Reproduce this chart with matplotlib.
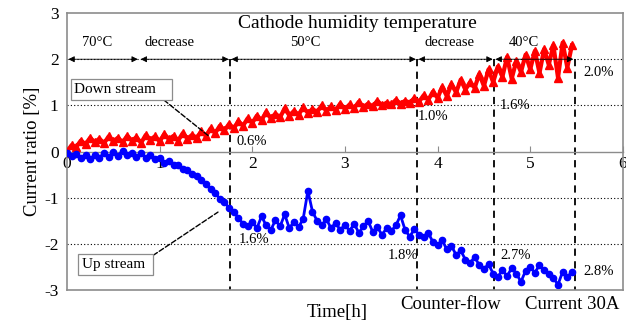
import numpy as np
import matplotlib
matplotlib.use('Agg')
import matplotlib.pyplot as plt

plt.rcParams['font.family'] = ['Liberation Serif', 'DejaVu Serif']
plt.rcParams['axes.unicode_minus'] = False

# Time [h], sampled every 0.05 h
time_h = np.round(np.arange(0, 5.451, 0.05), 2)

# Down stream current ratio [%]
down_stream = [
    0.00, 0.14, 0.10, 0.24, 0.16, 0.30, 0.20, 0.28, 0.18, 0.33,
    0.22, 0.30, 0.20, 0.34, 0.24, 0.31, 0.19, 0.36, 0.26, 0.33,
    0.22, 0.38, 0.27, 0.34, 0.24, 0.40, 0.28, 0.36, 0.30, 0.44,
    0.34, 0.50, 0.40, 0.56, 0.46, 0.60, 0.50, 0.66, 0.56, 0.72,
    0.62, 0.78, 0.68, 0.86, 0.72, 0.82, 0.74, 0.94, 0.78, 0.88,
    0.80, 0.96, 0.84, 0.92, 0.86, 1.00, 0.88, 0.98, 0.90, 1.04,
    0.92, 1.02, 0.94, 1.08, 0.96, 1.04, 0.98, 1.10, 1.00, 1.06,
    1.02, 1.12, 1.04, 1.10, 1.06, 1.16, 1.08, 1.22, 1.12, 1.30,
    1.16, 1.40, 1.20, 1.46, 1.28, 1.56, 1.34, 1.50, 1.38, 1.68,
    1.42, 1.78, 1.50, 1.84, 1.62, 2.05, 1.58, 1.96, 1.72, 2.10,
    1.78, 2.18, 1.70, 2.22, 1.88, 2.30, 1.60, 2.36, 1.82, 2.30,
]

# Up stream current ratio [%]
up_stream = [
    -0.02, -0.10, -0.06, -0.14, -0.08, -0.16, -0.07, -0.13, -0.03, -0.11,
    -0.01, -0.09, 0.02, -0.07, -0.02, -0.11, -0.04, -0.13, -0.08, -0.17,
    -0.14, -0.24, -0.20, -0.30, -0.28, -0.38, -0.40, -0.48, -0.52, -0.62,
    -0.70, -0.82, -0.90, -1.02, -1.10, -1.22, -1.30, -1.44, -1.56, -1.62,
    -1.52, -1.66, -1.40, -1.60, -1.70, -1.48, -1.62, -1.36, -1.66, -1.52,
    -1.64, -1.45, -0.85, -1.30, -1.50, -1.60, -1.46, -1.66, -1.54, -1.70,
    -1.58, -1.72, -1.56, -1.76, -1.62, -1.50, -1.74, -1.64, -1.80, -1.66,
    -1.72, -1.60, -1.38, -1.70, -1.84, -1.68, -1.80, -1.86, -1.76, -1.96,
    -2.02, -1.92, -2.12, -2.04, -2.24, -2.14, -2.34, -2.42, -2.28, -2.46,
    -2.54, -2.44, -2.64, -2.72, -2.56, -2.70, -2.52, -2.64, -2.82, -2.58,
    -2.50, -2.62, -2.46, -2.56, -2.64, -2.74, -2.88, -2.60, -2.72, -2.60,
]

# Phase boundaries [h] and labels
boundaries = [0.0, 0.78, 1.76, 3.78, 4.61, 5.48]
phase_labels = ['70°C', 'decrease', '50°C', 'decrease', '40°C']
phase_label_x = [0.33, 1.11, 2.57, 4.13, 4.93]

gray = '#8c8c8c'

fig = plt.figure(figsize=(6.26, 3.26), dpi=100)
ax = fig.add_axes([0.107, 0.110, 0.888, 0.850])

ax.plot(time_h, down_stream, color='red', marker='^', markersize=5.5, linewidth=3.0, zorder=3)
ax.plot(time_h, up_stream, color='blue', marker='o', markersize=4.5, linewidth=2.0, zorder=3)

ax.set_xlim(0, 6)
ax.set_ylim(-3, 3)

# dotted reference lines
for yv in [2, 1, -1, -2]:
    ax.axhline(yv, color='black', linestyle=(0, (1, 2)), linewidth=0.8, zorder=1)

# vertical dashed phase lines
for xb in boundaries[2:]:
    ax.plot([xb, xb], [2, -3], color='black', linestyle=(0, (4, 3)), linewidth=1.3, zorder=2)

# double arrows along y=2
for i in range(len(phase_labels)):
    ax.annotate('', xy=(boundaries[i + 1], 2), xytext=(boundaries[i], 2),
                arrowprops=dict(arrowstyle='<|-|>', color='black', lw=0.6,
                                shrinkA=1, shrinkB=1, mutation_scale=9), zorder=4)
    ax.text(phase_label_x[i], 2.37, phase_labels[i], ha='center', va='center', fontsize=10.5)

ax.text(3.13, 2.78, 'Cathode humidity temperature', ha='center', va='center', fontsize=14)

# percentage labels
ax.text(1.83, 0.22, '0.6%', ha='left', va='center', fontsize=10.5)
ax.text(3.79, 0.76, '1.0%', ha='left', va='center', fontsize=10.5)
ax.text(4.67, 1.00, '1.6%', ha='left', va='center', fontsize=10.5)
ax.text(5.57, 1.72, '2.0%', ha='left', va='center', fontsize=10.5)
ax.text(1.85, -1.91, '1.6%', ha='left', va='center', fontsize=10.5)
ax.text(3.79, -2.26, '1.8%', ha='right', va='center', fontsize=10.5)
ax.text(4.68, -2.24, '2.7%', ha='left', va='center', fontsize=10.5)
ax.text(5.57, -2.60, '2.8%', ha='left', va='center', fontsize=10.5)

# series callouts
box = dict(boxstyle='square,pad=0.25', facecolor='white', edgecolor=gray, linewidth=0.9)
ax.annotate('Down stream   ', xy=(1.54, 0.32), xytext=(0.08, 1.35), ha='left', va='center',
            fontsize=11, bbox=box, zorder=5,
            arrowprops=dict(arrowstyle='-', linestyle='--', color='black', lw=1.0,
                            shrinkA=0, shrinkB=0, relpos=(0.9, 0.0)))
ax.annotate('Up stream ', xy=(1.63, -1.31), xytext=(0.16, -2.45), ha='left', va='center',
            fontsize=11, bbox=box, zorder=5,
            arrowprops=dict(arrowstyle='-', linestyle='--', color='black', lw=1.0,
                            shrinkA=0, shrinkB=0, relpos=(1.0, 1.0)))

# axes styling: x axis drawn at y=0, frame in gray
for s in ['left', 'right', 'top']:
    ax.spines[s].set_color(gray)
    ax.spines[s].set_linewidth(1.2)
ax.spines['bottom'].set_position(('data', 0))
ax.spines['bottom'].set_color(gray)
ax.spines['bottom'].set_linewidth(1.0)
ax.axhline(-3, color=gray, linewidth=1.2, clip_on=False, zorder=6)

ax.set_xticks(range(0, 7))
ax.tick_params(axis='x', direction='in', length=4, color=gray, labelsize=12.5, pad=3)
ax.set_yticks(range(-3, 4))
ax.tick_params(axis='y', length=0, labelsize=12.5, pad=6)

ax.set_ylabel('Current ratio [%]', fontsize=13.5, labelpad=2)

ax.text(2.92, -3.49, 'Time[h]', ha='center', va='center', fontsize=13.5, clip_on=False)
ax.text(4.14, -3.32, 'Counter-flow', ha='center', va='center', fontsize=13.5, clip_on=False)
ax.text(5.45, -3.32, 'Current 30A', ha='center', va='center', fontsize=13.5, clip_on=False)

fig.savefig('out.png', dpi=100)
